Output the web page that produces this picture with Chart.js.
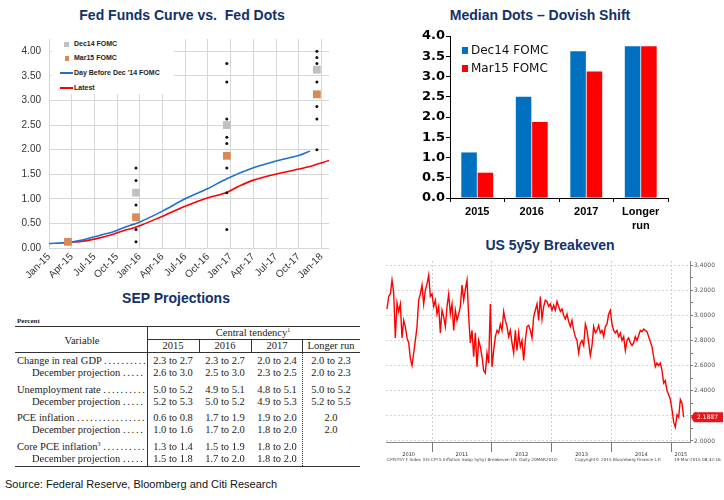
<!DOCTYPE html>
<html>
<head>
<meta charset="utf-8">
<script src="https://cdn.jsdelivr.net/npm/chart.js@4.4.1/dist/chart.umd.min.js"></script>
<style>
html,body{margin:0;padding:0;background:#fff}
body{position:relative;width:724px;height:500px;overflow:hidden;font-family:'Liberation Sans',Arial,sans-serif}
canvas{position:absolute}
.title{position:absolute;font:bold 14px 'Liberation Sans',Arial,sans-serif;color:#11306c;white-space:pre;transform:translateX(-50%);line-height:16px}
.lg1{position:absolute;font:bold 7px 'Liberation Sans',Arial,sans-serif;color:#222;white-space:nowrap;line-height:8px}
.lg2{position:absolute;font:12px 'DejaVu Sans',sans-serif;color:#111;white-space:nowrap;line-height:14px}
.sep{position:absolute;font-family:'Liberation Serif','Times New Roman',serif;font-size:10.5px;color:#222;white-space:nowrap;line-height:12px}
.bb{position:absolute;font:4.2px 'DejaVu Sans',sans-serif;color:#444;white-space:nowrap;line-height:5px}
.mk{position:absolute}
</style>
</head>
<body>

<div class="title" style="left:182px;top:7px">Fed Funds Curve vs.  Fed Dots</div>
<div class="title" style="left:540px;top:7px">Median Dots – Dovish Shift</div>
<div class="title" style="left:176px;top:290px">SEP Projections</div>
<div class="title" style="left:550px;top:237px">US 5y5y Breakeven</div>

<canvas id="curve" width="340" height="265" style="left:0;top:25px"></canvas>
<canvas id="median" width="362" height="205" style="left:362px;top:25px"></canvas>
<canvas id="breakeven" width="362" height="207" style="left:362px;top:255px"></canvas>

<!-- legend, fed funds chart -->
<div class="mk" style="left:52px;top:33px;width:122px;height:61px;background:#fff"></div>
<div class="mk" style="left:64px;top:42px;width:5px;height:5px;background:#c0c0c0"></div>
<div class="lg1" style="left:74px;top:40px">Dec14 FOMC</div>
<div class="mk" style="left:65px;top:56px;width:4px;height:5px;background:#d98a57"></div>
<div class="lg1" style="left:74px;top:54px">Mar15 FOMC</div>
<div class="mk" style="left:60px;top:72px;width:13px;height:2px;background:#1f6fd0"></div>
<div class="lg1" style="left:74px;top:69px">Day Before Dec '14 FOMC</div>
<div class="mk" style="left:60px;top:87px;width:13px;height:1.5px;background:#ff0000"></div>
<div class="lg1" style="left:74px;top:84px">Latest</div>

<!-- legend, median dots chart -->
<div class="mk" style="left:462px;top:47px;width:6px;height:7px;background:#0070c0"></div>
<div class="lg2" style="left:471px;top:43px">Dec14 FOMC</div>
<div class="mk" style="left:462px;top:65px;width:6px;height:7px;background:#ff0000"></div>
<div class="lg2" style="left:471px;top:61px">Mar15 FOMC</div>

<div class="bb" style="left:386px;top:457px">.CPI5Y5Y F Index (US CPI 5 Inflation Swap 5y5y) Breakeven US&nbsp;&nbsp;Daily 20MAR2010-</div>
<div class="bb" style="left:575px;top:457px">Copyright© 2015 Bloomberg Finance L.P.</div>
<div class="bb" style="left:674px;top:457px">19-Mar-2015 08:32:16</div>

<div style="position:absolute;left:5px;top:478px;font:11px 'Liberation Sans Narrow','Arial Narrow',sans-serif;color:#111;white-space:nowrap">Source: Federal Reserve, Bloomberg and Citi Research</div>

<script>
// ---- Fed funds curve vs dots (x = months since Jan-15)
const quarterTicks = [0, 3, 6, 9, 12, 15, 18, 21, 24, 27, 30, 33, 36]
const quarterLabels = ['Jan-15','Apr-15','Jul-15','Oct-15','Jan-16','Apr-16','Jul-16','Oct-16','Jan-17','Apr-17','Jul-17','Oct-17','Jan-18']
const rateTicks = [0, 0.25, 0.5, 0.75, 1, 1.25, 1.5, 1.75, 2, 2.25, 2.5, 2.75, 3, 3.25, 3.5, 3.75, 4, 4.25]

const dotMonths = [11.5, 23.5, 35.4]
const dots2015 = [1.625, 1.375, 0.875, 0.375, 0.125]
const dots2016 = [3.75, 3.375, 2.625, 2.25, 2.125, 1.625, 1.125, 0.375]
const dots2017 = [4.0, 3.875, 3.75, 3.375, 2.875, 2.625, 2.0]

const dec14Months = [11.5, 23.5, 35.4]
const dec14Medians = [1.125, 2.5, 3.625]
const mar15Months = [2.5, 11.5, 23.5, 35.4]
const mar15Medians = [0.125, 0.625, 1.875, 3.125]

const dayBeforeMonths = [0, 2.3, 4, 6, 8.5, 10, 12, 15, 18, 21, 23.5, 27, 30, 33, 34.5]
const dayBeforeRates = [0.09, 0.11, 0.15, 0.23, 0.33, 0.42, 0.53, 0.75, 1.0, 1.21, 1.41, 1.63, 1.77, 1.88, 1.97]
const latestMonths = [2.3, 4, 6, 8.5, 10, 11.6, 14.6, 18, 21, 23.5, 25, 27, 30.5, 34, 37]
const latestRates = [0.12, 0.13, 0.18, 0.28, 0.36, 0.43, 0.62, 0.85, 1.02, 1.13, 1.25, 1.38, 1.52, 1.64, 1.78]

// ---- median dots bars
const medianCats = ['2015', '2016', '2017', ['Longer', 'run']]
const dec14Bars = [1.125, 2.5, 3.625, 3.75]
const mar15Bars = [0.625, 1.875, 3.125, 3.75]

// ---- US 5y5y breakeven, one reading about every 10 days from late Mar 2010
const beStart = 2010.248
const beStep = 0.02786
const breakevenValues = [
	3.05, 3.15, 3.17, 3.28, 3.18, 2.82, 3.10, 3.03, 3.09, 2.82, 2.96, 2.91, 2.82, 2.78, 2.66, 2.60, 2.70, 2.80,
	2.91, 3.12, 3.17, 3.24, 3.09, 3.20, 3.25, 3.32, 3.15, 3.17, 3.07, 3.12, 3.01, 3.07, 2.86, 3.04, 2.99, 2.91,
	3.07, 3.17, 3.01, 3.09, 2.88, 3.04, 2.96, 3.01, 3.07, 3.24, 3.12, 3.21, 3.28, 2.99, 2.78, 2.88, 2.67, 2.86,
	2.59, 2.80, 2.75, 2.67, 2.56, 2.54, 2.70, 2.62, 3.09, 2.59, 2.72, 2.83, 2.88, 2.86, 2.93, 2.88, 3.03, 2.96,
	2.91, 2.83, 2.88, 2.78, 2.70, 2.88, 2.72, 2.86, 2.75, 2.80, 2.64, 2.80, 2.91, 2.92, 2.88, 2.82, 2.99, 3.04,
	3.09, 2.96, 3.15, 2.97, 3.07, 3.12, 3.11, 3.07, 3.09, 3.04, 3.08, 3.04, 3.11, 3.07, 3.03, 3.05, 3.00, 2.97,
	3.01, 2.95, 2.91, 2.96, 2.88, 2.83, 2.80, 2.70, 2.78, 2.80, 2.76, 2.93, 2.88, 2.78, 2.68, 2.76, 2.91, 2.86,
	2.88, 2.92, 2.86, 2.88, 2.83, 2.91, 2.93, 3.01, 3.04, 2.93, 2.88, 2.86, 2.88, 2.83, 2.86, 2.80, 2.83, 2.72,
	2.80, 2.82, 2.78, 2.76, 2.78, 2.83, 2.80, 2.84, 2.88, 2.87, 2.89, 2.88, 2.87, 2.83, 2.79, 2.75, 2.67, 2.59,
	2.62, 2.60, 2.62, 2.56, 2.46, 2.48, 2.40, 2.37, 2.33, 2.25, 2.15, 2.11, 2.21, 2.19, 2.33, 2.30, 2.19
]
const lastValue = 2.1887
const yearTicks = [2010.61, 2011, 2011.5, 2012, 2012.5, 2013, 2013.5, 2014, 2014.5, 2015, 2015.16]
const yearLabels = ['2010', '', '2011', '', '2012', '', '2013', '', '2014', '', '2015']
const beTicks = [2.0, 2.1, 2.2, 2.3, 2.4, 2.5, 2.6, 2.7, 2.8, 2.9, 3.0, 3.1, 3.2, 3.3, 3.4]

// ---- SEP table
const sepCols = ['2015', '2016', '2017', 'Longer run']
const sepRows = [
	['Change in real GDP', ['2.3 to 2.7', '2.3 to 2.7', '2.0 to 2.4', '2.0 to 2.3']],
	['December projection', ['2.6 to 3.0', '2.5 to 3.0', '2.3 to 2.5', '2.0 to 2.3']],
	['Unemployment rate', ['5.0 to 5.2', '4.9 to 5.1', '4.8 to 5.1', '5.0 to 5.2']],
	['December projection', ['5.2 to 5.3', '5.0 to 5.2', '4.9 to 5.3', '5.2 to 5.5']],
	['PCE inflation', ['0.6 to 0.8', '1.7 to 1.9', '1.9 to 2.0', '2.0']],
	['December projection', ['1.0 to 1.6', '1.7 to 2.0', '1.8 to 2.0', '2.0']],
	['Core PCE inflation<sup style="font-size:6px;vertical-align:4px;line-height:0">3</sup>', ['1.3 to 1.4', '1.5 to 1.9', '1.8 to 2.0', '']],
	['December projection', ['1.5 to 1.8', '1.7 to 2.0', '1.8 to 2.0', '']]
]

Chart.defaults.font.family = "'Liberation Sans', Arial, sans-serif"
Chart.defaults.animation = false
Chart.defaults.plugins.legend.display = false
Chart.defaults.plugins.tooltip.enabled = false

const pts = (xs, ys) => xs.map((x, i) => ({x: x, y: ys[i]}))

let dotPts = []
;[dots2015, dots2016, dots2017].forEach((arr, i) => {
	arr.forEach(v => dotPts.push({x: dotMonths[i], y: v}))
})

new Chart(document.querySelector("#curve"), {
	type: 'scatter',
	data: {
		datasets: [
			{data: pts(dec14Months, dec14Medians), pointStyle: 'rect', pointRadius: 5.5, backgroundColor: '#c0c0c0', borderWidth: 0},
			{data: pts(mar15Months, mar15Medians), pointStyle: 'rect', pointRadius: 5.5, backgroundColor: '#d98a57', borderWidth: 0},
			{data: dotPts, pointRadius: 1.5, backgroundColor: '#111', borderWidth: 0},
			{data: pts(dayBeforeMonths, dayBeforeRates), showLine: true, pointRadius: 0, borderColor: '#1f6fd0', borderWidth: 1.6, tension: 0.3},
			{data: pts(latestMonths, latestRates), showLine: true, pointRadius: 0, borderColor: '#ff0000', borderWidth: 1.6, tension: 0.3}
		]
	},
	options: {
		responsive: false,
		layout: {padding: {left: 0, right: 11, top: 7, bottom: 0}},
		scales: {
			x: {
				type: 'linear', min: 0, max: 37,
				afterBuildTicks: s => { s.ticks = quarterTicks.map(v => ({value: v})) },
				afterFit: s => { s.height = 42 },
				ticks: {callback: (v, i) => quarterLabels[i], autoSkip: false, maxRotation: 45, minRotation: 45, padding: 3, color: '#333', font: {size: 10}},
				grid: {color: '#d6d6d6', drawTicks: false},
				border: {display: false}
			},
			y: {
				min: 0, max: 4.25,
				afterBuildTicks: s => { s.ticks = rateTicks.map(v => ({value: v})) },
				afterFit: s => { s.width = 49 },
				ticks: {callback: v => (Math.abs(v * 2 - Math.round(v * 2)) < 1e-9 ? v.toFixed(2) : ''), padding: 8, color: '#333', font: {size: 10}},
				grid: {color: '#d6d6d6', drawTicks: false},
				border: {display: false}
			}
		}
	}
})

new Chart(document.querySelector("#median"), {
	type: 'bar',
	data: {
		labels: medianCats,
		datasets: [
			{data: dec14Bars, backgroundColor: '#0070c0', categoryPercentage: 0.6, barPercentage: 0.95},
			{data: mar15Bars, backgroundColor: '#ff0000', categoryPercentage: 0.6, barPercentage: 0.95}
		]
	},
	options: {
		responsive: false,
		layout: {padding: {left: 0, right: 56, top: 11, bottom: 0}},
		scales: {
			x: {
				afterFit: s => { s.height = 32 },
				ticks: {color: '#000', padding: 3, font: {size: 11, weight: 'bold', lineHeight: 1.3}},
				grid: {drawOnChartArea: false, tickLength: 4, color: '#000'},
				border: {color: '#000'}
			},
			y: {
				min: 0, max: 4,
				afterFit: s => { s.width = 88 },
				ticks: {stepSize: 0.5, callback: v => v.toFixed(1), color: '#000', padding: 1, font: {family: "'DejaVu Sans', sans-serif", size: 13, weight: 'bold'}},
				grid: {drawOnChartArea: false, tickLength: 4, color: '#000'},
				border: {color: '#000'}
			}
		}
	}
})

const lastTag = {
	id: 'lastTag',
	afterDraw(chart) {
		const ctx = chart.ctx
		const y = chart.scales.y.getPixelForValue(lastValue)
		const x = chart.chartArea.right + 1
		ctx.save()
		ctx.fillStyle = '#e8141a'
		ctx.beginPath()
		ctx.moveTo(x, y)
		ctx.lineTo(x + 3, y - 5)
		ctx.lineTo(x + 32, y - 5)
		ctx.lineTo(x + 32, y + 5)
		ctx.lineTo(x + 3, y + 5)
		ctx.closePath()
		ctx.fill()
		ctx.fillStyle = '#fff'
		ctx.font = "6px 'DejaVu Sans', sans-serif"
		ctx.textBaseline = 'middle'
		ctx.fillText(lastValue.toFixed(4), x + 6, y + 0.5)
		ctx.restore()
	}
}

new Chart(document.querySelector("#breakeven"), {
	type: 'line',
	data: {
		datasets: [{
			data: breakevenValues.map((v, i) => ({x: beStart + i * beStep, y: v})),
			borderColor: '#ff0000', borderWidth: 1.4, pointRadius: 0, tension: 0
		}]
	},
	options: {
		responsive: false,
		layout: {padding: {left: 24, right: 0, top: 6, bottom: 0}},
		scales: {
			x: {
				type: 'linear', min: 2010.231, max: 2015.313,
				afterBuildTicks: s => { s.ticks = yearTicks.map(v => ({value: v})) },
				afterFit: s => { s.height = 20 },
				ticks: {callback: (v, i) => yearLabels[i], autoSkip: false, maxRotation: 0, padding: 0, color: '#333', font: {family: "'DejaVu Sans', sans-serif", size: 5}},
				grid: {
					color: c => (c.tick && Number.isInteger(c.tick.value) ? '#cfcfcf' : 'rgba(0,0,0,0)'),
					tickColor: c => (c.tick && Number.isInteger(c.tick.value) ? '#777' : 'rgba(0,0,0,0)'),
					tickLength: 10
				},
				border: {color: '#888', dash: [2, 2]}
			},
			y: {
				position: 'right', min: 1.992, max: 3.432,
				afterBuildTicks: s => { s.ticks = beTicks.map(v => ({value: v})) },
				afterFit: s => { s.width = 34 },
				ticks: {callback: v => (Math.round(v * 10) % 2 === 0 ? v.toFixed(4) : ''), padding: 1, color: '#555', font: {family: "'DejaVu Sans', sans-serif", size: 6}},
				grid: {
					color: c => (c.tick && Math.round(c.tick.value * 10) % 2 === 0 ? '#d4d4d4' : 'rgba(0,0,0,0)'),
					tickColor: '#777',
					tickLength: 3
				},
				border: {color: '#888', dash: [2, 2]}
			}
		}
	},
	plugins: [lastTag]
})

// ---- SEP table drawing
const sepColX = [173, 225, 277, 331]
const sepRowY = [361, 373, 390, 402, 418, 430, 447, 459]

function txt(x, y, html, center, extra) {
	const d = document.createElement("div")
	d.className = "sep"
	d.innerHTML = html
	d.style.left = x + "px"
	d.style.top = (y - 6) + "px"
	if (center) d.style.transform = "translateX(-50%)"
	if (extra) Object.assign(d.style, extra)
	document.body.appendChild(d)
	return d
}
function rule(x1, y1, x2, y2, w, style) {
	const d = document.createElement("div")
	d.style.position = "absolute"
	d.style.left = x1 + "px"
	d.style.top = y1 + "px"
	if (y1 === y2) {
		d.style.width = (x2 - x1) + "px"
		d.style.borderTop = w + "px " + (style || "solid") + " #333"
	} else {
		d.style.height = (y2 - y1) + "px"
		d.style.borderLeft = w + "px " + (style || "solid") + " #333"
	}
	document.body.appendChild(d)
}

txt(17, 321, "Percent", false, {fontSize: "7px", fontWeight: "bold"})
txt(82, 341, "Variable", true)
txt(253, 333, 'Central tendency<sup style="font-size:6px;vertical-align:4px;line-height:0">1</sup>', true)
sepCols.forEach((c, j) => txt(sepColX[j], 346, c, true))

sepRows.forEach((r, i) => {
	const sub = r[0] === 'December projection'
	const x = sub ? 32 : 17
	txt(x, sepRowY[i], r[0] + ' <span style="letter-spacing:1.7px">' + '.'.repeat(60) + '</span>', false,
		{width: (145 - x) + "px", overflow: "hidden"})
	r[1].forEach((v, j) => { if (v) txt(sepColX[j], sepRowY[i], v, true) })
})

rule(15, 326, 360, 326, 1.2)
rule(147, 339, 360, 339, 0.8)
rule(15, 352, 360, 352, 0.8)
rule(15, 466, 360, 466, 1)
rule(147, 326, 147, 466, 0.8)
rule(199, 339, 199, 352, 0.8)
rule(251, 339, 251, 352, 0.8)
rule(302, 339, 302, 352, 0.8)
rule(302, 352, 302, 466, 1, "dotted")
</script>
</body>
</html>
